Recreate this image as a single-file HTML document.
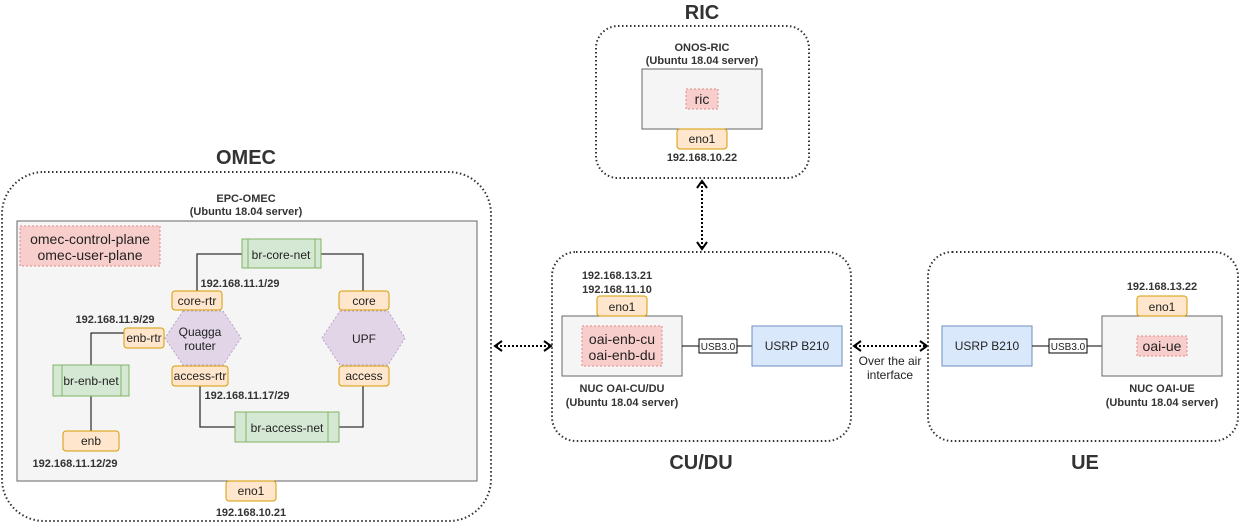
<!DOCTYPE html>
<html><head><meta charset="utf-8"><style>
html,body{margin:0;padding:0;background:#fff;}
svg{display:block;font-family:"Liberation Sans",Arial,sans-serif;}
.c{fill:none;stroke:#333;stroke-width:2;stroke-dasharray:1.5 2.5;}
.g{fill:#f5f5f5;stroke:#666;stroke-width:1;}
.p{fill:#f8cecc;stroke:#e08a87;stroke-dasharray:2 2;}
.o{fill:#ffe6cc;stroke:#d79b00;}
.gr{fill:#d5e8d4;stroke:#82b366;}
.b{fill:#dae8fc;stroke:#6c8ebf;}
.h{fill:#e1d5e7;stroke:#b9a3c9;stroke-dasharray:2 2;}
.l{fill:none;stroke:#333;stroke-width:1.3;}
.k{fill:none;stroke:#000;stroke-width:1;}
.ar{fill:none;stroke:#000;stroke-width:2;stroke-dasharray:2 2;}
.ah{fill:none;stroke:#000;stroke-width:2;}
text{fill:#222;}
.bt{font-weight:bold;font-size:11px;fill:#333;}
.t{font-size:12px;}
.T{font-weight:bold;font-size:20px;fill:#333;}
</style></head><body>
<svg width="1243" height="524" viewBox="0 0 1243 524" text-anchor="middle">
<!-- OMEC -->
<text class="T" x="246" y="164">OMEC</text>
<rect class="c" x="2" y="172" width="489" height="349" rx="42"/>
<text class="bt" x="246" y="202" font-size="10">EPC-OMEC</text>
<text class="bt" x="246" y="215" font-size="10">(Ubuntu 18.04 server)</text>
<rect class="g" x="17" y="221" width="460" height="260" stroke="#999" stroke-width="1.5"/>
<rect class="p" x="20" y="226" width="140" height="40"/>
<text x="90" y="244" font-size="14">omec-control-plane</text>
<text x="90" y="260" font-size="14">omec-user-plane</text>
<path class="l" d="M242 254H197V291M321 254H363V291M200 386V427H235M339 427H363V386"/>
<path class="k" d="M124 333H91V365M91 396V431"/>
<rect class="gr" x="242" y="239" width="79" height="29"/>
<path class="gr" d="M248 239V268M315 239V268"/>
<text class="t" x="281" y="259">br-core-net</text>
<rect class="gr" x="235" y="412" width="104" height="30"/>
<path class="gr" d="M246 412V442M328 412V442"/>
<text class="t" x="287" y="432">br-access-net</text>
<rect class="gr" x="53" y="365" width="76" height="31"/>
<path class="gr" d="M62 365V396M121 365V396"/>
<text class="t" x="91" y="385">br-enb-net</text>
<polygon class="h" points="183,311 223,311 241,338 223,365 183,365 165,338"/>
<text class="t" x="200" y="336">Quagga</text>
<text class="t" x="200" y="350">router</text>
<polygon class="h" points="340,311 388,311 405,338 388,365 340,365 322,338"/>
<text class="t" x="364" y="343">UPF</text>
<rect class="o" x="172" y="291" width="50" height="19" rx="3"/><text class="t" x="197" y="305">core-rtr</text>
<rect class="o" x="124" y="328" width="40" height="20" rx="3"/><text class="t" x="144" y="342">enb-rtr</text>
<rect class="o" x="172" y="366" width="56" height="20" rx="3"/><text class="t" x="200" y="380">access-rtr</text>
<rect class="o" x="339" y="291" width="50" height="19" rx="3"/><text class="t" x="364" y="305">core</text>
<rect class="o" x="339" y="366" width="50" height="20" rx="3"/><text class="t" x="364" y="380">access</text>
<rect class="o" x="63" y="431" width="56" height="20" rx="3"/><text class="t" x="91" y="445">enb</text>
<rect class="o" x="226" y="481" width="50" height="20" rx="3"/><text class="t" x="251" y="495">eno1</text>
<text class="bt" x="240" y="287">192.168.11.1/29</text>
<text class="bt" x="115" y="323">192.168.11.9/29</text>
<text class="bt" x="247" y="399">192.168.11.17/29</text>
<text class="bt" x="75" y="467">192.168.11.12/29</text>
<text class="bt" x="251" y="516">192.168.10.21</text>
<!-- arrows -->
<path class="ar" d="M496 346H550"/>
<path class="ah" d="M502 341L495 346L502 351M544 341L551 346L544 351"/>
<path class="ar" d="M702 182V248"/>
<path class="ah" d="M697 188L702 181L707 188M697 242L702 249L707 242"/>
<path class="ar" d="M855 346H926"/>
<path class="ah" d="M861 341L854 346L861 351M920 341L927 346L920 351"/>
<text class="t" x="890" y="365" font-size="11">Over the air</text>
<text class="t" x="890" y="379" font-size="11">interface</text>
<!-- RIC -->
<text class="T" x="702" y="19">RIC</text>
<rect class="c" x="596" y="26" width="213" height="152" rx="22"/>
<text class="bt" x="702" y="51" font-size="10">ONOS-RIC</text>
<text class="bt" x="702" y="64" font-size="10">(Ubuntu 18.04 server)</text>
<rect class="g" x="642" y="69" width="120" height="60"/>
<rect class="p" x="686" y="89" width="32" height="20"/>
<text x="702" y="104" font-size="14">ric</text>
<rect class="o" x="677" y="129" width="50" height="20" rx="3"/><text class="t" x="702" y="143">eno1</text>
<text class="bt" x="702" y="161">192.168.10.22</text>
<!-- CU/DU -->
<rect class="c" x="552" y="252" width="299" height="189" rx="24"/>
<text class="T" x="701" y="469">CU/DU</text>
<text class="bt" x="617" y="279">192.168.13.21</text>
<text class="bt" x="617" y="293">192.168.11.10</text>
<rect class="g" x="562" y="316" width="120" height="60"/>
<rect class="o" x="597" y="296" width="50" height="20" rx="3"/><text class="t" x="622" y="311">eno1</text>
<rect class="p" x="582" y="326" width="80" height="40"/>
<text x="622" y="344" font-size="14">oai-enb-cu</text>
<text x="622" y="360" font-size="14">oai-enb-du</text>
<text class="bt" x="622" y="392" font-size="10">NUC OAI-CU/DU</text>
<text class="bt" x="622" y="406" font-size="10">(Ubuntu 18.04 server)</text>
<path class="k" d="M682 346H752"/>
<rect x="699" y="339" width="38" height="14" fill="#fff" stroke="#000"/>
<text x="718" y="350" font-size="10" fill="#444">USB3.0</text>
<rect class="b" x="752" y="326" width="90" height="40"/>
<text class="t" x="797" y="350">USRP B210</text>
<!-- UE -->
<rect class="c" x="928" y="252" width="310" height="189" rx="24"/>
<text class="T" x="1085" y="469">UE</text>
<rect class="b" x="942" y="326" width="90" height="40"/>
<text class="t" x="987" y="350">USRP B210</text>
<path class="k" d="M1032 346H1102"/>
<rect x="1049" y="339" width="38" height="14" fill="#fff" stroke="#000"/>
<text x="1068" y="350" font-size="10" fill="#444">USB3.0</text>
<rect class="g" x="1102" y="316" width="120" height="60"/>
<rect class="p" x="1137" y="336" width="50" height="20"/>
<text x="1162" y="351" font-size="14">oai-ue</text>
<rect class="o" x="1137" y="296" width="50" height="20" rx="3"/><text class="t" x="1162" y="311">eno1</text>
<text class="bt" x="1162" y="290">192.168.13.22</text>
<text class="bt" x="1162" y="392" font-size="10">NUC OAI-UE</text>
<text class="bt" x="1162" y="406" font-size="10">(Ubuntu 18.04 server)</text>
</svg>
</body></html>
